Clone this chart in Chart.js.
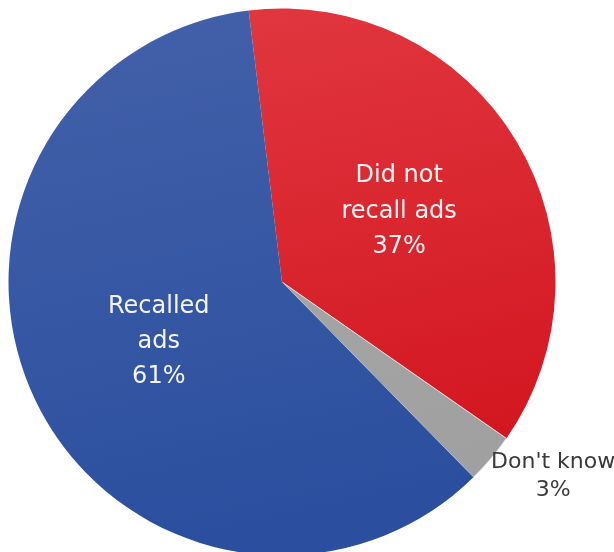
<!DOCTYPE html>
<html>
<head>
<meta charset="utf-8">
<script src="https://cdn.jsdelivr.net/npm/chart.js@4"></script>
<style>
  html, body { margin: 0; padding: 0; background: #fff; overflow: hidden; }
  #wrap { position: relative; width: 614px; height: 560px; }
</style>
</head>
<body>
<div id="wrap"><canvas id="pie-chart"></canvas></div>
<script>
var labels = ["Did not\nrecall ads", "Don't know", "Recalled\nads"];
var shares = [37, 3, 61];
var colorsTop = ["#e23a42", "#aaaaaa", "#4461aa"];
var colorsBottom = ["#d2141e", "#a0a0a0", "#2b4f9e"];

// label placement per slice: distance as a share of radius, angle shift, text colour, size
var labelStyle = [
  { dist: 0.5, shift: 0, color: "#f6f3f3", size: 24, lead: 35.5 },
  { dist: 1.22, shift: -0.08, color: "#3a3a3a", size: 22, lead: 28 },
  { dist: 0.5, shift: 0, color: "#f3f5fa", size: 24, lead: 35 }
];

function sliceFill(ctx) {
  var chart = ctx.chart;
  var area = chart.chartArea;
  if (!area) return colorsBottom[ctx.dataIndex];
  var g = chart.ctx.createLinearGradient(area.left, area.top, area.left + 120, area.bottom);
  g.addColorStop(0, colorsTop[ctx.dataIndex]);
  g.addColorStop(1, colorsBottom[ctx.dataIndex]);
  return g;
}

var sliceLabels = {
  id: 'sliceLabels',
  afterDatasetsDraw: function(chart) {
    var c = chart.ctx;
    var arcs = chart.getDatasetMeta(0).data;
    arcs.forEach(function(arc, i) {
      var p = arc.getProps(['x', 'y', 'startAngle', 'endAngle', 'outerRadius'], true);
      var st = labelStyle[i];
      var mid = (p.startAngle + p.endAngle) / 2 + st.shift;
      var cx = p.x + Math.cos(mid) * p.outerRadius * st.dist;
      var cy = p.y + Math.sin(mid) * p.outerRadius * st.dist;
      var lines = labels[i].split("\n").concat([shares[i] + "%"]);
      c.save();
      c.font = st.size + "px 'DejaVu Sans'";
      c.fillStyle = st.color;
      c.textAlign = "center";
      c.textBaseline = "middle";
      var y0 = cy - (lines.length - 1) * st.lead / 2;
      lines.forEach(function(t, k) {
        c.fillText(t, cx, y0 + k * st.lead);
      });
      c.restore();
    });
  }
};

new Chart(document.getElementById("pie-chart"), {
  type: 'pie',
  data: {
    labels: labels,
    datasets: [{
      data: shares,
      backgroundColor: sliceFill,
      borderColor: ["rgba(255,255,255,0)", "rgba(235,235,235,0.9)", "rgba(255,255,255,0)"],
      borderWidth: 1
    }]
  },
  options: {
    responsive: true,
    maintainAspectRatio: false,
    animation: false,
    rotation: -7,
    layout: { padding: { left: 8, top: 8, right: 58, bottom: 4 } },
    plugins: {
      legend: { display: false },
      tooltip: { enabled: false }
    }
  },
  plugins: [sliceLabels]
});
</script>
</body>
</html>
